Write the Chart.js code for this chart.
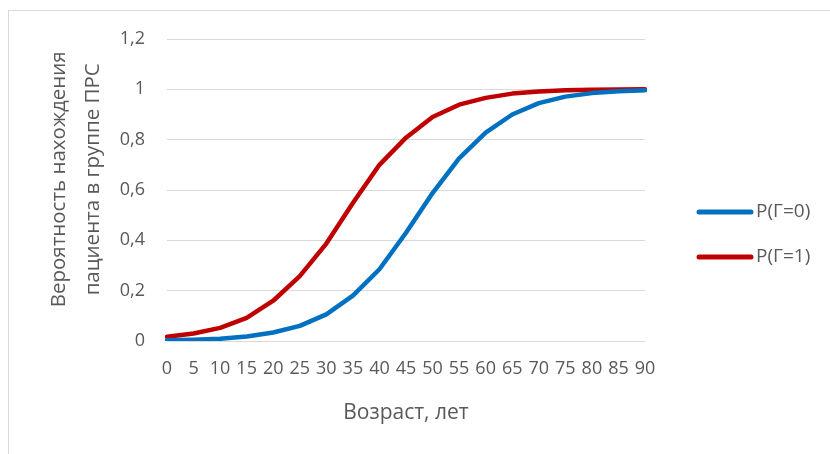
<!DOCTYPE html>
<html>
<head>
<meta charset="utf-8">
<script src="https://cdn.jsdelivr.net/npm/chart.js@4.4.1/dist/chart.umd.min.js"></script>
<style>
    html, body { margin: 0; padding: 0; background: #fff; }
    #wrap { width: 830px; height: 454px; position: relative; }
</style>
</head>
<body>
<div id="wrap"><canvas id="chart"></canvas></div>
<script>
(function () {
    "use strict";

    // data
    const ages = ["0", "5", "10", "15", "20", "25", "30", "35", "40", "45",
        "50", "55", "60", "65", "70", "75", "80", "85", "90"];
    const pG0 = [0.003, 0.005, 0.009, 0.018, 0.034, 0.060, 0.106, 0.180, 0.285, 0.430,
        0.588, 0.726, 0.828, 0.900, 0.945, 0.971, 0.985, 0.992, 0.996];
    const pG1 = [0.017, 0.030, 0.052, 0.092, 0.160, 0.258, 0.387, 0.548, 0.700, 0.808,
        0.890, 0.939, 0.966, 0.983, 0.991, 0.996, 0.998, 0.999, 1.0];
    const seriesNames = ["P(Γ=0)", "P(Γ=1)"];
    const seriesColors = ["#0070C0", "#C00000"];

    const FONT = "'Open Sans', 'Noto Sans', sans-serif";
    const TEXT = "#595959";
    const PAD = "\u00A0\u00A0\u00A0\u00A0"; // nudges the rotated title upward a bit

    // Excel-like outer frame + legend on the right
    const frameAndLegend = {
        id: "frameAndLegend",
        beforeDraw(chart) {
            const ctx = chart.ctx;
            ctx.save();
            ctx.fillStyle = "#fff";
            ctx.fillRect(0, 0, chart.width, chart.height);
            ctx.strokeStyle = "#d9d9d9";
            ctx.lineWidth = 1;
            ctx.strokeRect(8.5, 10.5, 900, 900);
            ctx.restore();
        },
        afterDraw(chart) {
            const ctx = chart.ctx;
            ctx.save();
            ctx.font = "19px " + FONT;
            ctx.textBaseline = "middle";
            ctx.lineCap = "round";
            ctx.lineWidth = 5;
            chart.data.datasets.forEach((ds, i) => {
                const y = 212 + i * 45;
                ctx.strokeStyle = ds.borderColor;
                ctx.beginPath();
                ctx.moveTo(699, y);
                ctx.lineTo(751, y);
                ctx.stroke();
                ctx.fillStyle = TEXT;
                ctx.fillText(ds.label, 756, y);
            });
            ctx.restore();
        },
    };

    new Chart(document.getElementById("chart"), {
        type: "line",
        data: {
            labels: ages,
            datasets: [
                {
                    label: seriesNames[0],
                    data: pG0,
                    borderColor: seriesColors[0],
                    backgroundColor: seriesColors[0],
                    borderWidth: 4.5,
                    borderCapStyle: "round",
                    borderJoinStyle: "round",
                    pointRadius: 0,
                    tension: 0,
                },
                {
                    label: seriesNames[1],
                    data: pG1,
                    borderColor: seriesColors[1],
                    backgroundColor: seriesColors[1],
                    borderWidth: 4.5,
                    borderCapStyle: "round",
                    borderJoinStyle: "round",
                    pointRadius: 0,
                    tension: 0,
                },
            ],
        },
        options: {
            responsive: true,
            maintainAspectRatio: false,
            animation: false,
            layout: {
                padding: { left: 0, right: 185, top: 39, bottom: 0 },
            },
            plugins: {
                legend: { display: false },
                tooltip: { enabled: false },
            },
            scales: {
                x: {
                    offset: false,
                    grid: { display: false, drawTicks: false },
                    border: { display: false },
                    ticks: {
                        autoSkip: false,
                        maxRotation: 0,
                        minRotation: 0,
                        padding: 17,
                        color: TEXT,
                        font: { family: FONT, size: 18 },
                    },
                    title: {
                        display: true,
                        text: "Возраст, лет",
                        color: TEXT,
                        font: { family: FONT, size: 21 },
                        padding: { top: 0, bottom: 28 },
                    },
                    afterFit: (scale) => { scale.height = 113; },
                },
                y: {
                    min: 0,
                    max: 1.2,
                    ticks: {
                        stepSize: 0.2,
                        padding: 22,
                        color: TEXT,
                        font: { family: FONT, size: 18 },
                        callback: function (value) {
                            return String(Math.round(value * 10) / 10).replace(".", ",");
                        },
                    },
                    grid: { color: "#d9d9d9", lineWidth: 1, drawTicks: false },
                    border: { display: false },
                    title: {
                        display: true,
                        text: [PAD + "Вероятность нахождения", PAD + "пациента в группе ПРС"],
                        color: TEXT,
                        font: { family: FONT, size: 20.5, lineHeight: 1.65 },
                        padding: { top: 42, bottom: 0 },
                    },
                    afterFit: (scale) => { scale.width = 167; },
                },
            },
        },
        plugins: [frameAndLegend],
    });
})();
</script>
</body>
</html>
